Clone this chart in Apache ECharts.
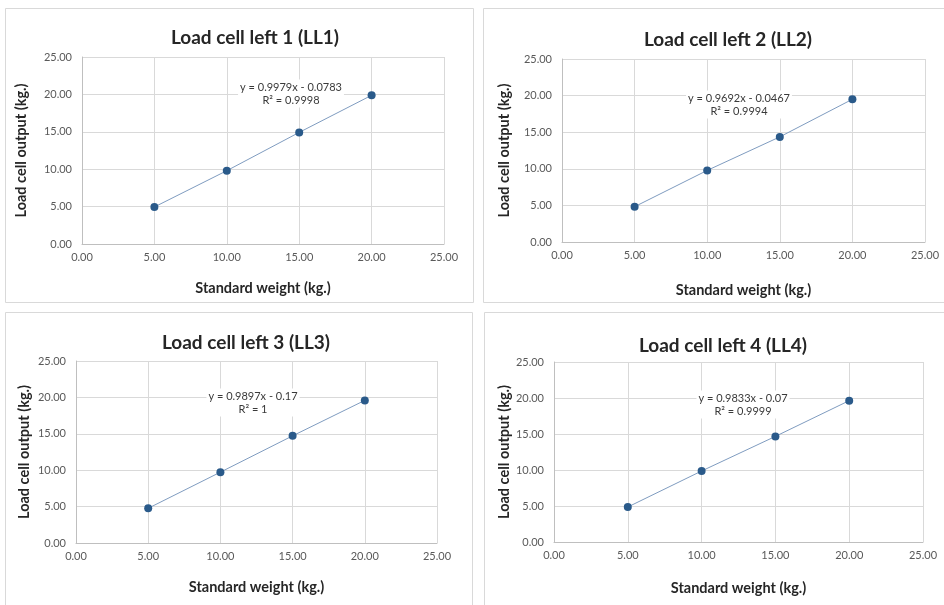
<!DOCTYPE html>
<html><head><meta charset="utf-8">
<script src="https://cdn.jsdelivr.net/npm/echarts@6/dist/echarts.min.js"></script>
<style>html,body{margin:0;padding:0;background:#fff}#c{width:944px;height:605px}</style>
</head><body><div id="c"></div>
<script>
const standardWeight = [5, 10, 15, 20];
const ll1 = [4.95, 9.80, 14.92, 19.88];
const ll2 = [4.82, 9.78, 14.36, 19.50];
const ll3 = [4.77, 9.73, 14.72, 19.59];
const ll4 = [4.86, 9.86, 14.67, 19.63];
const titles = ['Load cell left 1 (LL1)', 'Load cell left 2 (LL2)', 'Load cell left 3 (LL3)', 'Load cell left 4 (LL4)'];
const equations = ['y = 0.9979x - 0.0783', 'y = 0.9692x - 0.0467', 'y = 0.9897x - 0.17', 'y = 0.9833x - 0.07'];
const rSquared = ['R² = 0.9998', 'R² = 0.9994', 'R² = 1', 'R² = 0.9999'];
const xName = 'Standard weight (kg.)';
const yName = 'Load cell output (kg.)';
const seriesValues = [ll1, ll2, ll3, ll4];

const FONT = 'Lato';
const grids = [
  {left: 82, top: 57, width: 362, height: 187},
  {left: 562, top: 59, width: 363, height: 183},
  {left: 76, top: 361, width: 361, height: 182},
  {left: 554, top: 362, width: 369, height: 180}
];
const titlePos = [[250, 33], [723, 35], [241, 338], [718, 341]];
const eqPos = [[291, 87], [739, 98], [253, 396], [743, 398]];
const borders = [[5, 8, 468, 294], [483, 8, 470, 294], [5, 312, 467, 300], [484, 312, 470, 300]];
const xNameGap = [37, 41, 37, 39];
const yNameGap = [53, 50, 44, 42];

const axisCommon = {
  type: 'value', min: 0, max: 25, interval: 5,
  axisLine: {show: true, lineStyle: {color: '#bfbfbf', width: 1}},
  axisTick: {show: false},
  splitLine: {show: true, lineStyle: {color: '#d9d9d9', width: 1}},
  axisLabel: {color: '#595959', fontFamily: FONT, fontSize: 11, formatter: v => v.toFixed(2)},
  nameLocation: 'middle',
  nameTextStyle: {color: '#262626', fontFamily: FONT, fontSize: 14.5, fontWeight: 'bold'}
};

const option = {
  animation: false,
  backgroundColor: '#fff',
  title: titles.map((t, i) => ({
    text: t, left: titlePos[i][0], top: titlePos[i][1], textAlign: 'center', textVerticalAlign: 'middle',
    textStyle: {fontFamily: FONT, fontSize: 19, fontWeight: 'bold', color: '#262626'}
  })),
  grid: grids,
  xAxis: grids.map((g, i) => Object.assign({}, axisCommon, {
    gridIndex: i, name: xName, nameGap: xNameGap[i],
    axisLabel: Object.assign({}, axisCommon.axisLabel, {margin: 8})
  })),
  yAxis: grids.map((g, i) => Object.assign({}, axisCommon, {
    gridIndex: i, name: yName, nameGap: yNameGap[i],
    axisLabel: Object.assign({}, axisCommon.axisLabel, {margin: 10})
  })),
  series: seriesValues.map((vals, i) => ({
    type: 'line', xAxisIndex: i, yAxisIndex: i,
    data: standardWeight.map((x, j) => [x, vals[j]]),
    symbol: 'circle', symbolSize: 8,
    itemStyle: {color: '#2a5a8a'},
    lineStyle: {color: '#7f9cc0', width: 1}
  })),
  graphic: borders.map(b => ({
    type: 'rect', shape: {x: b[0] + 0.5, y: b[1] + 0.5, width: b[2], height: b[3]},
    style: {fill: 'none', stroke: '#d9d9d9', lineWidth: 1}, z: -10
  })).concat(eqPos.map((p, i) => ({
    type: 'text', x: p[0], y: p[1] + 6.5, z: 100,
    style: {text: equations[i] + '\n' + rSquared[i], align: 'center', verticalAlign: 'middle',
      fontFamily: FONT, fontSize: 11, fill: '#3a3a3a', lineHeight: 13,
      backgroundColor: '#fff', padding: [1, 2]}
  })))
};

const chart = echarts.init(document.getElementById('c'), null, {renderer: 'canvas'});
chart.setOption(option);
</script></body></html>
